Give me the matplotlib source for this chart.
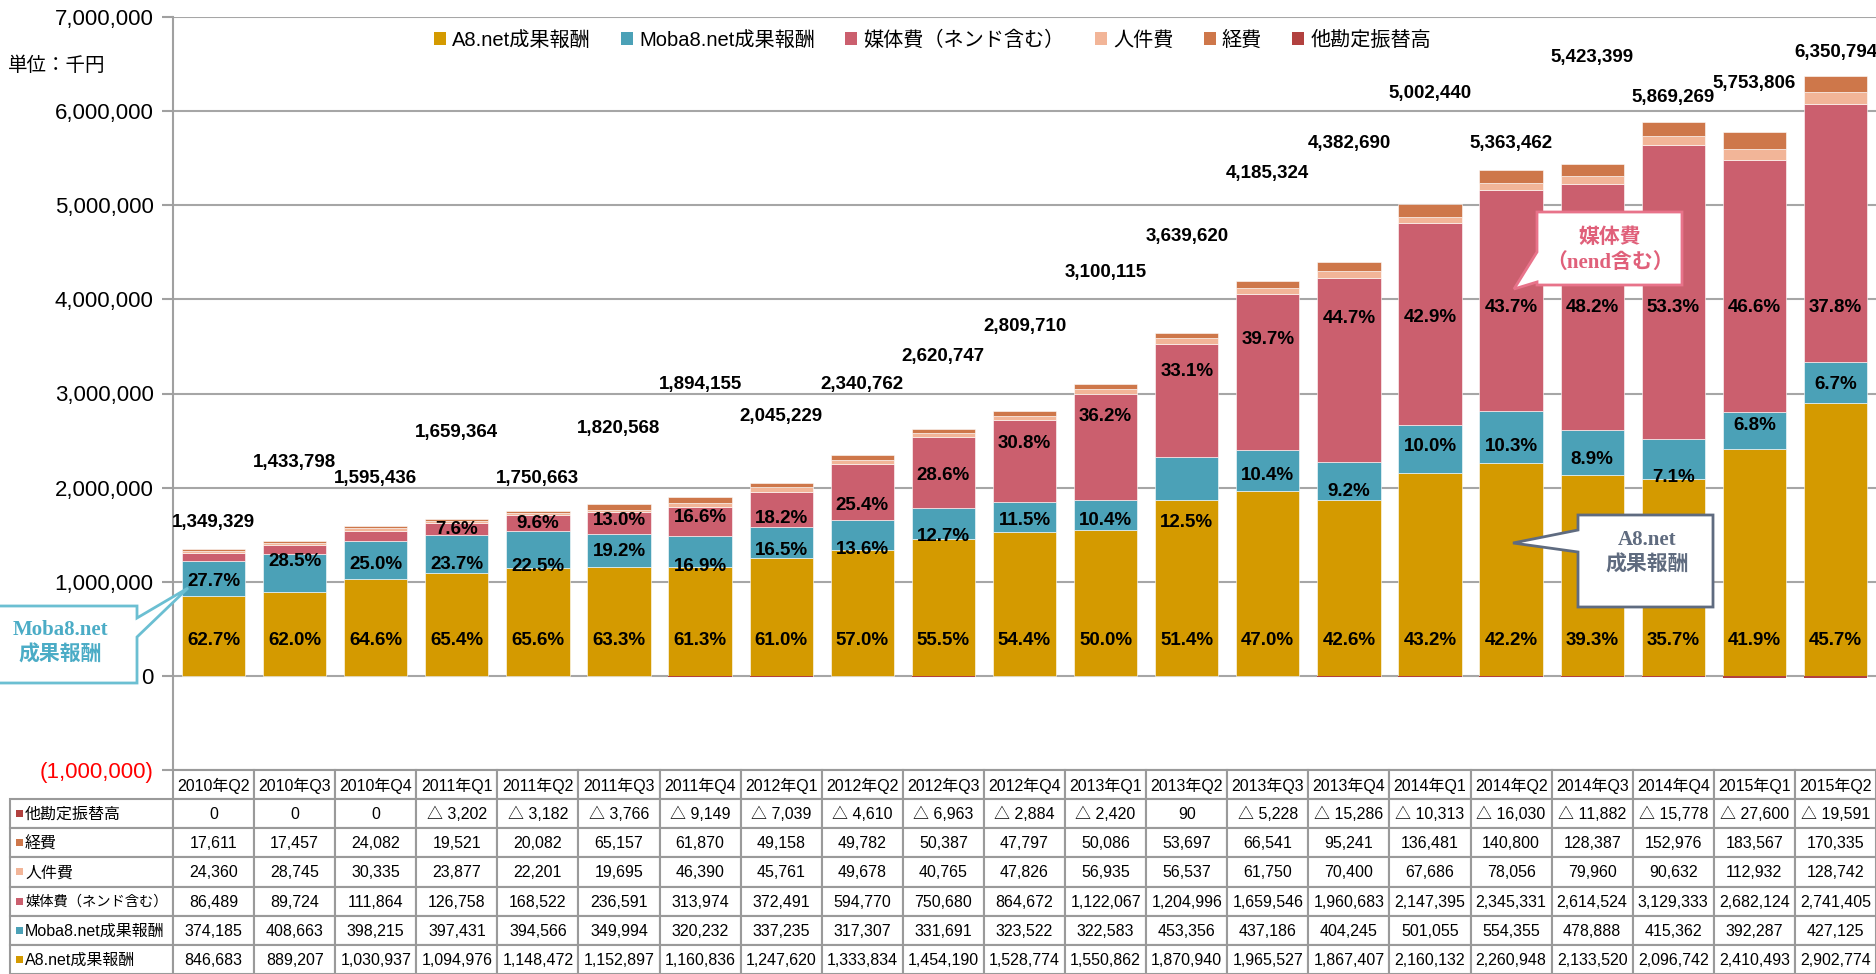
import matplotlib
matplotlib.use("Agg")
import matplotlib.pyplot as plt
from matplotlib.patches import Rectangle, Polygon, Patch
from matplotlib.ticker import FuncFormatter, MultipleLocator

plt.rcParams['font.family'] = ['Liberation Sans', 'Noto Sans CJK JP', 'DejaVu Sans']

quarters = ["2010年Q2", "2010年Q3", "2010年Q4", "2011年Q1", "2011年Q2", "2011年Q3", "2011年Q4",
            "2012年Q1", "2012年Q2", "2012年Q3", "2012年Q4", "2013年Q1", "2013年Q2", "2013年Q3",
            "2013年Q4", "2014年Q1", "2014年Q2", "2014年Q3", "2014年Q4", "2015年Q1", "2015年Q2"]

a8 = [846683, 889207, 1030937, 1094976, 1148472, 1152897, 1160836, 1247620, 1333834, 1454190, 1528774,
      1550862, 1870940, 1965527, 1867407, 2160132, 2260948, 2133520, 2096742, 2410493, 2902774]
moba = [374185, 408663, 398215, 397431, 394566, 349994, 320232, 337235, 317307, 331691, 323522,
        322583, 453356, 437186, 404245, 501055, 554355, 478888, 415362, 392287, 427125]
media = [86489, 89724, 111864, 126758, 168522, 236591, 313974, 372491, 594770, 750680, 864672,
         1122067, 1204996, 1659546, 1960683, 2147395, 2345331, 2614524, 3129333, 2682124, 2741405]
staff = [24360, 28745, 30335, 23877, 22201, 19695, 46390, 45761, 49678, 40765, 47826,
         56935, 56537, 61750, 70400, 67686, 78056, 79960, 90632, 112932, 128742]
expense = [17611, 17457, 24082, 19521, 20082, 65157, 61870, 49158, 49782, 50387, 47797,
           50086, 53697, 66541, 95241, 136481, 140800, 128387, 152976, 183567, 170335]
transfer = [0, 0, 0, -3202, -3182, -3766, -9149, -7039, -4610, -6963, -2884,
            -2420, 90, -5228, -15286, -10313, -16030, -11882, -15778, -27600, -19591]

totals = [1349329, 1433798, 1595436, 1659364, 1750663, 1820568, 1894155, 2045229, 2340762, 2620747,
          2809710, 3100115, 3639620, 4185324, 4382690, 5002440, 5363462, 5423399, 5869269, 5753806,
          6350794]

a8_pct = [62.7, 62.0, 64.6, 65.4, 65.6, 63.3, 61.3, 61.0, 57.0, 55.5, 54.4, 50.0, 51.4, 47.0, 42.6,
          43.2, 42.2, 39.3, 35.7, 41.9, 45.7]
moba_pct = [27.7, 28.5, 25.0, 23.7, 22.5, 19.2, 16.9, 16.5, 13.6, 12.7, 11.5, 10.4, 12.5, 10.4, 9.2,
            10.0, 10.3, 8.9, 7.1, 6.8, 6.7]
media_pct = [None, None, None, 7.6, 9.6, 13.0, 16.6, 18.2, 25.4, 28.6, 30.8, 36.2, 33.1, 39.7, 44.7,
             42.9, 43.7, 48.2, 53.3, 46.6, 37.8]

# label heights (millions) as placed in the original chart
total_label_y = [1.63, 2.27, 2.10, 2.59, 2.10, 2.63, 3.10, 2.76, 3.10, 3.39, 3.71, 4.29, 4.67, 5.34,
                 5.66, 6.19, 5.66, 6.57, 6.14, 6.29, 6.62]
moba_label_y = [1.00, 1.22, 1.18, 1.18, 1.16, 1.32, 1.16, 1.33, 1.34, 1.48, 1.65, 1.65, 1.63, 2.13,
                1.96, 2.44, 2.44, 2.30, 2.11, 2.66, 3.10]
media_label_y = [None, None, None, 1.56, 1.62, 1.65, 1.68, 1.67, 1.81, 2.13, 2.47, 2.76, 3.23, 3.57,
                 3.80, 3.81, 3.91, 3.91, 3.91, 3.91, 3.91]

names = ["A8.net成果報酬", "Moba8.net成果報酬", "媒体費（ネンド含む）", "人件費", "経費", "他勘定振替高"]
colors = ["#D49A00", "#4BA1B7", "#CB5F6E", "#F2B598", "#CE774A", "#B2413F"]

W, H = 1876, 974
fig = plt.figure(figsize=(W / 100, H / 100), dpi=100)
ax_left, ax_right, ax_top, ax_bot = 173, 1876, 17, 770
ax = fig.add_axes([ax_left / W, 1 - ax_bot / H, (ax_right - ax_left) / W, (ax_bot - ax_top) / H])

x = list(range(len(quarters)))
bw = 0.78
bottom = [0] * len(x)
for vals, c in zip([a8, moba, media, staff, expense], colors[:5]):
    ax.bar(x, vals, bw, bottom=bottom, color=c, edgecolor="white", linewidth=0.4, zorder=2)
    bottom = [b + v for b, v in zip(bottom, vals)]
neg = [min(v, 0) for v in transfer]
ax.bar(x, neg, bw, color=colors[5], zorder=2)

ax.set_xlim(-0.5, len(x) - 0.5)
ax.set_ylim(-1000000, 7000000)
ax.yaxis.set_major_locator(MultipleLocator(1000000))
ax.yaxis.set_major_formatter(FuncFormatter(lambda v, p: f"{v:,.0f}" if v >= 0 else f"({-v:,.0f})"))
ax.grid(axis="y", color="#A6A6A6", linewidth=1.5, zorder=0)
ax.set_axisbelow(True)
for s in ["top", "right", "bottom"]:
    ax.spines[s].set_visible(False)
ax.spines["left"].set_color("#A0A0A0")
ax.spines["left"].set_linewidth(1.5)
ax.tick_params(axis="y", length=8, width=1.5, color="#A0A0A0", labelsize=16, pad=6)
ax.tick_params(axis="x", length=0, labelbottom=False)
fig.canvas.draw()
for t, lab in zip(ax.get_yticks(), ax.get_yticklabels()):
    if t < 0:
        lab.set_color("#FF0000")

lab_kw = dict(ha="center", va="center", fontsize=13.5, fontweight="bold", color="black", zorder=5)
for i in x:
    ax.text(i, total_label_y[i] * 1e6, f"{totals[i]:,}", **lab_kw)
    ax.text(i, 380000, f"{a8_pct[i]:.1f}%", **lab_kw)
    ax.text(i, moba_label_y[i] * 1e6, f"{moba_pct[i]:.1f}%", **lab_kw)
    if media_pct[i] is not None:
        ax.text(i, media_label_y[i] * 1e6, f"{media_pct[i]:.1f}%", **lab_kw)

handles = [Patch(facecolor=c, edgecolor="none") for c in colors]
ax.legend(handles, names, loc="center", bbox_to_anchor=(0.446, 0.969), ncol=6, frameon=False,
          fontsize=14.5, handlelength=0.6, handleheight=0.6, handletextpad=0.3, columnspacing=1.5)

# overlay in pixel coordinates for the table and callouts
ov = fig.add_axes([0, 0, 1, 1], facecolor="none")
ov.set_xlim(0, W)
ov.set_ylim(H, 0)
ov.axis("off")

ov.text(57, 66, "単位：千円", ha="center", va="center", fontsize=14)

colw = (ax_right - ax_left) / len(quarters)
hdr_top, hdr_bot = 770, 799
rows = [transfer, expense, staff, media, moba, a8]
row_names = names[::-1]
row_colors = colors[::-1]
rh = (H - hdr_bot) / len(rows)
grid_c = "#9A9A9A"


def fmt(v):
    return f"△ {-v:,}" if v < 0 else f"{v:,}"


for j, q in enumerate(quarters):
    x0 = ax_left + j * colw
    ov.add_patch(Rectangle((x0, hdr_top), colw, hdr_bot - hdr_top, facecolor="white", edgecolor=grid_c, lw=1.5))
    ov.text(x0 + colw / 2, (hdr_top + hdr_bot) / 2 + 1, q, ha="center", va="center", fontsize=11.5)
for r, (vals, nm, c) in enumerate(zip(rows, row_names, row_colors)):
    y0 = hdr_bot + r * rh
    ov.add_patch(Rectangle((10, y0), ax_left - 10, rh, facecolor="white", edgecolor=grid_c, lw=1.5))
    ov.add_patch(Rectangle((16, y0 + rh / 2 - 3.5), 7, 7, facecolor=c, edgecolor="none"))
    fs = 10.3 if "（" in nm else 11.5
    ov.text(25, y0 + rh / 2 + 1, nm, ha="left", va="center", fontsize=fs)
    for j, v in enumerate(vals):
        x0 = ax_left + j * colw
        ov.add_patch(Rectangle((x0, y0), colw, rh, facecolor="white", edgecolor=grid_c, lw=1.5))
        ov.text(x0 + colw / 2, y0 + rh / 2 + 1, fmt(v), ha="center", va="center", fontsize=11.5)

serif = ['Liberation Serif', 'Noto Sans CJK JP', 'DejaVu Serif']

# callout: Moba8.net
ov.add_patch(Polygon([(-2, 606), (137, 606), (137, 618), (188, 588), (137, 637), (137, 683), (-2, 683)],
                     closed=True, facecolor="white", edgecolor="#6BBFD2", lw=2, zorder=6))
ov.text(60, 630, "Moba8.net", ha="center", va="center", fontsize=15, fontweight="bold",
        color="#4BACC6", family=serif, zorder=7)
ov.text(60, 655, "成果報酬", ha="center", va="center", fontsize=15, fontweight="bold",
        color="#4BACC6", family=serif, zorder=7)

# callout: media
ov.add_patch(Polygon([(1537, 212), (1682, 212), (1682, 285), (1537, 285), (1537, 282), (1514, 289),
                      (1537, 252)], closed=True, facecolor="white", edgecolor="#E8738A", lw=2, zorder=6))
ov.text(1610, 238, "媒体費", ha="center", va="center", fontsize=15, fontweight="bold",
        color="#E0607A", family=serif, zorder=7)
ov.text(1610, 263, "（nend含む）", ha="center", va="center", fontsize=15, fontweight="bold",
        color="#E0607A", family=serif, zorder=7)

# callout: A8.net
ov.add_patch(Polygon([(1578, 515), (1713, 515), (1713, 607), (1578, 607), (1578, 552), (1513, 543),
                      (1578, 530)], closed=True, facecolor="white", edgecolor="#5F6B80", lw=2, zorder=6))
ov.text(1647, 540, "A8.net", ha="center", va="center", fontsize=15, fontweight="bold",
        color="#5F6B7F", family=serif, zorder=7)
ov.text(1647, 565, "成果報酬", ha="center", va="center", fontsize=15, fontweight="bold",
        color="#5F6B7F", family=serif, zorder=7)

fig.savefig("out.png", dpi=100)
